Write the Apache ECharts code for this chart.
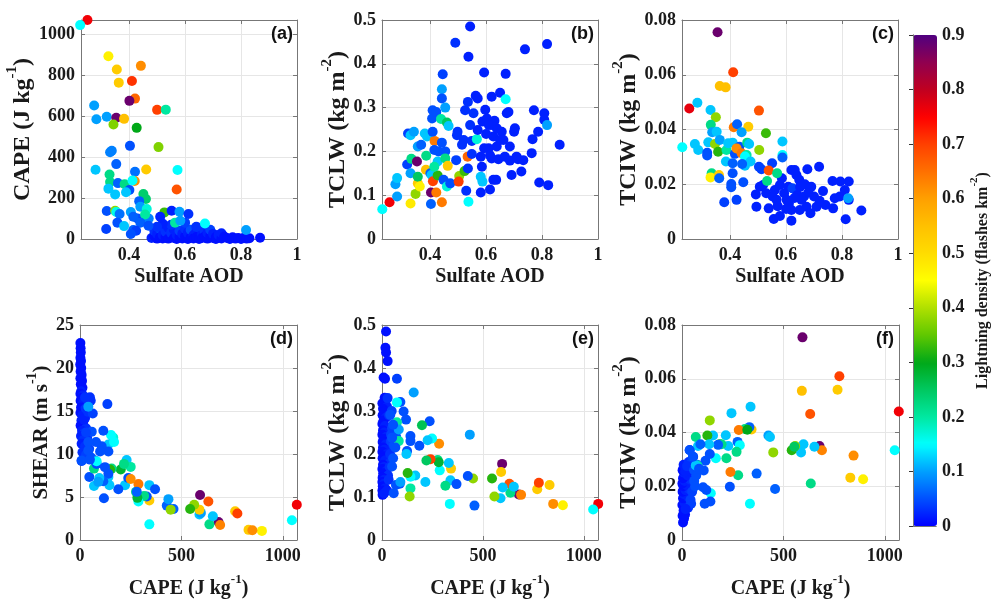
<!DOCTYPE html>
<html><head><meta charset="utf-8">
<script src="https://cdn.jsdelivr.net/npm/echarts@6/dist/echarts.min.js"></script>
<style>html,body{margin:0;padding:0;background:#fff}#c{width:992px;height:600px}</style>
</head><body><div id="c"></div>
<script>
// ---- data: [x, y, lightning density] ----
const ptsA = [ // Sulfate AOD vs CAPE
[0.48,5,0.02],[0.49,15,0.01],[0.49,40,0.03],[0.50,2,0.01],[0.50,25,0.02],[0.51,8,0.01],[0.51,50,0.04],[0.52,3,0.01],[0.52,20,0.02],[0.53,10,0.01],[0.53,35,0.03],[0.54,2,0.01],[0.54,55,0.02],[0.55,15,0.01],[0.55,30,0.03],[0.56,5,0.01],[0.56,45,0.02],[0.57,0,0.01],[0.57,20,0.02],[0.58,10,0.01],[0.58,40,0.04],[0.59,3,0.01],[0.59,25,0.02],[0.60,12,0.01],[0.60,50,0.03],[0.61,0,0.01],[0.61,30,0.02],[0.62,8,0.01],[0.62,45,0.05],[0.63,18,0.02],[0.63,3,0.01],[0.64,35,0.02],[0.64,10,0.01],[0.65,0,0.01],[0.65,55,0.03],[0.66,20,0.02],[0.66,5,0.01],[0.67,40,0.03],[0.67,12,0.01],[0.68,2,0.01],[0.68,30,0.02],[0.69,15,0.01],[0.69,45,0.04],[0.70,5,0.01],[0.70,25,0.02],[0.71,10,0.01],[0.71,0,0.01],[0.72,20,0.02],[0.73,3,0.01],[0.73,28,0.02],[0.74,12,0.01],[0.75,5,0.01],[0.76,0,0.01],[0.77,8,0.01],[0.78,2,0.01],[0.79,5,0.01],[0.80,0,0.01],[0.81,6,0.01],[0.82,2,0.01],[0.83,4,0.01],[0.55,70,0.03],[0.60,80,0.04],[0.64,60,0.03],[0.52,75,0.02],[0.50,60,0.03],[0.43,100,0.05],[0.45,90,0.04],[0.47,100,0.08],
[0.251,1070,0.76],[0.225,1045,0.15],[0.326,893,0.47],[0.356,828,0.53],[0.442,846,0.62],[0.363,764,0.53],[0.410,772,0.71],[0.421,686,0.66],[0.401,675,0.88],[0.275,652,0.1],[0.500,631,0.7],[0.531,632,0.2],[0.283,585,0.1],[0.320,597,0.1],[0.354,592,0.88],[0.382,587,0.55],[0.344,559,0.37],[0.427,543,0.3],[0.403,455,0.05],[0.338,431,0.08],[0.332,424,0.08],[0.505,449,0.37],[0.280,338,0.12],[0.354,366,0.06],[0.461,340,0.53],[0.573,337,0.15],[0.421,329,0.07],[0.330,315,0.22],[0.332,278,0.22],[0.360,273,0.06],[0.384,268,0.22],[0.420,283,0.62],[0.412,286,0.15],[0.570,242,0.68],[0.326,246,0.12],[0.401,239,0.05],[0.350,218,0.12],[0.389,228,0.12],[0.451,220,0.24],[0.460,195,0.24],[0.436,185,0.06],[0.440,158,0.1],[0.463,146,0.17],[0.320,137,0.05],[0.350,138,0.38],[0.354,132,0.16],[0.366,122,0.07],[0.406,132,0.1],[0.415,109,0.06],[0.457,120,0.2],[0.526,130,0.33],[0.552,138,0.02],[0.580,133,0.1],[0.612,122,0.03],[0.564,80,0.2],[0.583,89,0.1],[0.671,76,0.15],[0.511,109,0.02],[0.358,80,0.05],[0.382,63,0.12],[0.318,49,0.04],[0.440,80,0.06],[0.469,65,0.05],[0.415,44,0.06],[0.425,40,0.04],[0.406,24,0.05],[0.818,44,0.1],[0.868,6,0.01]
];
const ptsB = [ // Sulfate AOD vs TCLW
[0.229,0.068,0.15],[0.255,0.084,0.76],[0.282,0.097,0.1],[0.276,0.125,0.1],[0.282,0.139,0.12],[0.318,0.17,0.04],[0.321,0.241,0.04],[0.33,0.237,0.12],[0.342,0.245,0.1],[0.33,0.081,0.48],[0.348,0.103,0.38],[0.356,0.127,0.53],[0.33,0.15,0.1],[0.333,0.183,0.22],[0.353,0.177,0.88],[0.356,0.142,0.25],[0.363,0.12,0.47],[0.356,0.211,0.1],[0.368,0.215,0.06],[0.381,0.241,0.12],[0.389,0.234,0.12],[0.386,0.19,0.22],[0.385,0.158,0.55],[0.401,0.15,0.06],[0.405,0.146,0.12],[0.403,0.106,0.88],[0.403,0.08,0.06],[0.422,0.106,0.64],[0.442,0.084,0.64],[0.41,0.132,0.7],[0.416,0.224,0.64],[0.409,0.245,0.05],[0.407,0.275,0.05],[0.409,0.294,0.05],[0.422,0.29,0.05],[0.415,0.203,0.05],[0.43,0.2,0.05],[0.427,0.177,0.12],[0.427,0.145,0.32],[0.415,0.165,0.2],[0.442,0.342,0.1],[0.442,0.321,0.05],[0.445,0.376,0.04],[0.454,0.3,0.1],[0.439,0.274,0.2],[0.46,0.266,0.25],[0.466,0.258,0.12],[0.442,0.22,0.05],[0.454,0.2,0.05],[0.454,0.184,0.22],[0.463,0.167,0.53],[0.448,0.135,0.05],[0.46,0.12,0.17],[0.472,0.127,0.05],[0.493,0.18,0.04],[0.49,0.448,0.03],[0.543,0.485,0.02],[0.537,0.416,0.02],[0.496,0.237,0.03],[0.498,0.245,0.03],[0.504,0.144,0.38],[0.502,0.131,0.7],[0.523,0.155,0.33],[0.514,0.215,0.03],[0.52,0.226,0.03],[0.525,0.294,0.03],[0.535,0.313,0.03],[0.543,0.26,0.03],[0.534,0.188,0.66],[0.535,0.161,0.03],[0.529,0.11,0.03],[0.537,0.085,0.15],[0.549,0.194,0.03],[0.555,0.287,0.03],[0.549,0.224,0.03],[0.567,0.228,0.17],[0.563,0.327,0.02],[0.57,0.321,0.02],[0.57,0.249,0.02],[0.581,0.188,0.02],[0.585,0.165,0.02],[0.581,0.142,0.12],[0.587,0.131,0.12],[0.581,0.106,0.02],[0.593,0.38,0.02],[0.587,0.268,0.02],[0.593,0.207,0.02],[0.603,0.275,0.02],[0.614,0.113,0.02],[0.62,0.325,0.02],[0.623,0.26,0.02],[0.626,0.234,0.02],[0.62,0.184,0.02],[0.626,0.135,0.02],[0.636,0.135,0.02],[0.638,0.253,0.02],[0.644,0.182,0.02],[0.65,0.334,0.02],[0.656,0.245,0.02],[0.662,0.226,0.02],[0.67,0.377,0.02],[0.67,0.319,0.15],[0.674,0.287,0.02],[0.68,0.29,0.02],[0.667,0.188,0.02],[0.685,0.211,0.02],[0.691,0.146,0.02],[0.685,0.179,0.02],[0.7,0.245,0.02],[0.703,0.253,0.02],[0.709,0.188,0.02],[0.714,0.182,0.02],[0.726,0.154,0.02],[0.733,0.18,0.02],[0.739,0.433,0.02],[0.763,0.196,0.02],[0.766,0.228,0.02],[0.771,0.294,0.02],[0.786,0.245,0.02],[0.79,0.129,0.02],[0.808,0.287,0.02],[0.808,0.272,0.02],[0.818,0.445,0.02],[0.822,0.123,0.02],[0.818,0.26,0.1],[0.863,0.215,0.02],[0.597,0.295,0.02],[0.609,0.207,0.02],[0.614,0.191,0.02],[0.638,0.211,0.02],[0.65,0.226,0.02],[0.63,0.27,0.02],[0.6,0.24,0.02],[0.61,0.26,0.02]
];
const ptsC = [ // Sulfate AOD vs TCIW
[0.494,0.0118,0.02],[0.492,0.0163,0.02],[0.506,0.0191,0.02],[0.518,0.0197,0.02],[0.529,0.0167,0.02],[0.538,0.0112,0.02],[0.556,0.0073,0.02],[0.578,0.0084,0.02],[0.619,0.0067,0.02],[0.552,0.0155,0.02],[0.566,0.0143,0.02],[0.56,0.0179,0.02],[0.578,0.0197,0.02],[0.593,0.0167,0.02],[0.602,0.0143,0.02],[0.608,0.0191,0.02],[0.623,0.0185,0.04],[0.619,0.0106,0.02],[0.631,0.0252,0.02],[0.637,0.0234,0.02],[0.647,0.0216,0.02],[0.64,0.0161,0.02],[0.649,0.0106,0.02],[0.655,0.0143,0.02],[0.664,0.0155,0.02],[0.673,0.0118,0.02],[0.687,0.0094,0.02],[0.676,0.0255,0.02],[0.667,0.02,0.02],[0.69,0.0191,0.02],[0.7,0.0155,0.02],[0.709,0.0118,0.02],[0.718,0.0264,0.02],[0.732,0.0175,0.02],[0.741,0.0124,0.02],[0.768,0.0112,0.02],[0.766,0.0212,0.02],[0.774,0.0149,0.02],[0.792,0.0155,0.02],[0.794,0.021,0.02],[0.81,0.0179,0.02],[0.813,0.0072,0.02],[0.824,0.021,0.02],[0.824,0.0143,0.02],[0.822,0.0149,0.1],[0.869,0.0104,0.02],[0.619,0.0252,0.02],[0.585,0.0222,0.02],[0.61,0.013,0.02],[0.63,0.015,0.02],[0.68,0.017,0.02],[0.72,0.014,0.02],[0.57,0.012,0.02],[0.6,0.011,0.02],[0.65,0.019,0.02],
[0.355,0.0755,0.88],[0.411,0.0609,0.7],[0.363,0.0559,0.55],[0.384,0.0554,0.55],[0.254,0.0477,0.77],[0.283,0.0498,0.12],[0.33,0.0471,0.12],[0.503,0.0469,0.68],[0.349,0.0445,0.38],[0.413,0.0408,0.64],[0.425,0.0419,0.06],[0.465,0.041,0.53],[0.441,0.039,0.1],[0.331,0.0417,0.22],[0.336,0.039,0.1],[0.352,0.0392,0.12],[0.528,0.0386,0.33],[0.229,0.0335,0.15],[0.274,0.0347,0.12],[0.286,0.0325,0.12],[0.322,0.0353,0.12],[0.346,0.0347,0.38],[0.357,0.0319,0.32],[0.318,0.0315,0.05],[0.318,0.0305,0.05],[0.363,0.0362,0.1],[0.387,0.0325,0.2],[0.393,0.035,0.12],[0.409,0.0352,0.12],[0.417,0.0311,0.05],[0.433,0.0337,0.05],[0.423,0.0331,0.62],[0.441,0.0313,0.64],[0.461,0.0352,0.22],[0.468,0.0347,0.12],[0.459,0.0307,0.2],[0.453,0.0301,0.15],[0.504,0.0325,0.38],[0.587,0.0356,0.12],[0.587,0.0307,0.15],[0.587,0.0298,0.06],[0.385,0.0283,0.12],[0.409,0.0277,0.06],[0.453,0.0268,0.12],[0.473,0.0283,0.12],[0.443,0.0274,0.06],[0.503,0.0264,0.04],[0.512,0.0255,0.04],[0.55,0.0277,0.04],[0.538,0.025,0.68],[0.568,0.024,0.22],[0.334,0.024,0.22],[0.33,0.0225,0.47],[0.36,0.0234,0.53],[0.361,0.0222,0.06],[0.409,0.024,0.05],[0.404,0.0201,0.05],[0.404,0.0189,0.05],[0.447,0.0207,0.05],[0.379,0.0134,0.04],[0.423,0.0143,0.04],[0.532,0.0212,0.22]
];
const ptsD = [ // CAPE vs SHEAR
[2,22.9,0.01],[3,22.3,0.01],[4,21.8,0.01],[2,21.2,0.01],[5,20.8,0.01],[1,20.4,0.01],[6,20,0.01],[3,19.6,0.01],[8,19.2,0.01],[2,18.8,0.01],[10,18.5,0.01],[4,18.1,0.01],[12,17.7,0.01],[6,17.3,0.02],[2,17,0.01],[15,16.8,0.02],[8,16.5,0.01],[3,16.2,0.01],[18,16,0.02],[10,15.7,0.02],[5,15.4,0.01],[20,15.1,0.02],[2,14.8,0.01],[12,14.5,0.02],[25,14.2,0.02],[7,13.9,0.02],[15,13.6,0.02],[3,13.3,0.01],[30,13,0.03],[10,12.7,0.02],[20,12.4,0.03],[5,12.1,0.02],[35,11.9,0.03],[15,11.6,0.03],[8,11.2,0.02],[25,10.9,0.03],[45,10.6,0.04],[12,10.2,0.03],[30,9.9,0.04],[55,9.6,0.05],[8,9.2,0.04],[20,14,0.02],[28,15.3,0.03],[35,16.4,0.03],[40,14.9,0.03],
[1069,4.1,0.76],[1045,2.3,0.15],[897,1.06,0.47],[831,1.18,0.53],[850,1.14,0.62],[765,3.34,0.53],[776,3.08,0.7],[592,5.24,0.88],[633,4.48,0.68],[683,2.09,0.88],[691,1.75,0.63],[638,1.82,0.22],[655,2.77,0.12],[589,2.96,0.12],[596,3.15,0.1],[589,3.53,0.53],[563,4.1,0.38],[543,3.61,0.32],[461,3.61,0.06],[428,4.0,0.06],[436,4.75,0.1],[447,3.53,0.38],[342,1.82,0.15],[342,6.38,0.12],[342,4.6,0.53],[329,5.05,0.05],[370,5.9,0.05],[316,5.13,0.22],[288,4.48,0.15],[276,5.6,0.22],[283,4.9,0.28],[288,6.5,0.64],[280,5.6,0.06],[222,6.38,0.12],[189,5.9,0.05],[230,9.3,0.12],[238,7.2,0.05],[250,8.5,0.2],[250,7.1,0.62],[201,8.2,0.28],[217,8.85,0.22],[156,8.3,0.22],[148,8.2,0.32],[140,7.33,0.12],[140,7.7,0.05],[145,6.38,0.12],[118,4.86,0.05],[115,6.84,0.06],[123,8.47,0.05],[46,7.33,0.05],[69,6.27,0.12],[95,7.2,0.12],[69,8.3,0.22],[90,6.76,0.1],[82,8.85,0.05],[74,9.23,0.05],[82,9.15,0.15],[8,9.23,0.05],[164,11.9,0.17],[153,12.2,0.15],[140,11.1,0.12],[168,11.4,0.15],[115,12.7,0.05],[140,10.3,0.05],[107,10.9,0.05],[79,11.4,0.05],[58,12.6,0.05],[135,15.8,0.04],[63,14.7,0.04],[49,16.6,0.03],[53,16.2,0.03],[25,16.6,0.03],[41,15.5,0.1],[30,12.5,0.04],[41,11.4,0.05],[99,10.3,0.05],[41,10.4,0.05],[49,9.35,0.05]
];
const ptsE = [ // CAPE vs TCLW
[20,0.485,0.01],[17,0.447,0.01],[20,0.436,0.01],[28,0.416,0.01],[8,0.378,0.01],[15,0.375,0.01],[13,0.331,0.01],[18,0.325,0.01],[2,0.318,0.01],[25,0.31,0.02],[5,0.305,0.01],[10,0.298,0.01],[3,0.29,0.01],[20,0.285,0.02],[8,0.278,0.01],[2,0.27,0.01],[15,0.265,0.02],[30,0.26,0.02],[5,0.255,0.01],[12,0.25,0.02],[2,0.245,0.01],[22,0.24,0.02],[8,0.235,0.01],[3,0.228,0.01],[18,0.222,0.02],[35,0.218,0.03],[5,0.215,0.01],[12,0.21,0.02],[2,0.205,0.01],[25,0.2,0.02],[8,0.195,0.01],[3,0.19,0.01],[15,0.185,0.02],[40,0.18,0.03],[5,0.175,0.01],[10,0.17,0.02],[2,0.165,0.01],[20,0.16,0.02],[6,0.155,0.01],[30,0.15,0.03],[3,0.145,0.01],[12,0.14,0.02],[2,0.135,0.01],[8,0.13,0.02],[4,0.125,0.01],[15,0.12,0.02],[2,0.115,0.01],[6,0.11,0.01],[3,0.105,0.01],[10,0.108,0.02],[45,0.23,0.04],[50,0.26,0.04],[40,0.2,0.03],[60,0.22,0.05],[35,0.29,0.03],[28,0.33,0.03],[45,0.245,0.04],[55,0.19,0.05],[33,0.14,0.03],[25,0.115,0.02],[38,0.17,0.03],[60,0.27,0.05],[70,0.24,0.05],[48,0.3,0.04],
[1071,0.084,0.76],[1046,0.071,0.15],[896,0.081,0.47],[848,0.084,0.62],[830,0.128,0.53],[769,0.118,0.53],[777,0.133,0.7],[678,0.106,0.88],[689,0.105,0.63],[631,0.131,0.68],[636,0.11,0.22],[653,0.124,0.12],[598,0.122,0.12],[587,0.097,0.12],[595,0.177,0.88],[590,0.158,0.53],[545,0.143,0.32],[557,0.101,0.38],[458,0.08,0.06],[451,0.143,0.38],[425,0.149,0.05],[435,0.245,0.1],[336,0.084,0.15],[339,0.139,0.12],[342,0.166,0.53],[369,0.13,0.05],[314,0.126,0.22],[331,0.179,0.12],[286,0.162,0.15],[276,0.186,0.22],[281,0.181,0.28],[283,0.224,0.62],[240,0.188,0.7],[220,0.185,0.25],[215,0.135,0.12],[248,0.236,0.15],[226,0.232,0.12],[236,0.276,0.05],[198,0.267,0.26],[185,0.219,0.05],[157,0.343,0.1],[141,0.12,0.2],[137,0.101,0.38],[165,0.15,0.12],[141,0.147,0.15],[127,0.156,0.32],[141,0.242,0.05],[141,0.23,0.05],[119,0.28,0.05],[107,0.299,0.05],[124,0.207,0.05],[91,0.321,0.05],[74,0.375,0.04],[121,0.2,0.12],[74,0.32,0.15],[74,0.274,0.2],[83,0.23,0.2],[83,0.257,0.1],[88,0.131,0.05],[69,0.128,0.05],[58,0.109,0.05],[91,0.135,0.1],[41,0.291,0.05],[55,0.268,0.05],[50,0.238,0.05],[50,0.171,0.05],[66,0.215,0.05]
];
const ptsF = [ // CAPE vs TCIW
[5,0.0065,0.01],[10,0.008,0.01],[3,0.009,0.01],[15,0.0095,0.01],[8,0.011,0.01],[20,0.012,0.02],[2,0.013,0.01],[12,0.014,0.02],[25,0.0145,0.02],[5,0.0155,0.01],[30,0.016,0.02],[10,0.017,0.02],[3,0.018,0.01],[18,0.0185,0.02],[35,0.019,0.03],[7,0.02,0.01],[22,0.0205,0.02],[2,0.021,0.01],[14,0.022,0.02],[40,0.0225,0.03],[5,0.023,0.01],[28,0.024,0.02],[10,0.025,0.02],[3,0.026,0.01],[20,0.0265,0.02],[45,0.027,0.04],[8,0.028,0.02],[33,0.029,0.03],[50,0.0295,0.04],[15,0.0255,0.02],[38,0.0335,0.04],[55,0.031,0.04],[25,0.0275,0.03],[60,0.022,0.05],[50,0.018,0.04],[42,0.015,0.04],[60,0.026,0.05],[70,0.024,0.05],[65,0.02,0.05],[75,0.028,0.06],[30,0.012,0.03],[45,0.0135,0.04],[18,0.0115,0.02],
[594,0.0754,0.88],[776,0.0609,0.7],[591,0.0555,0.55],[767,0.0559,0.53],[1069,0.0478,0.76],[632,0.0469,0.68],[338,0.0496,0.12],[244,0.0472,0.12],[137,0.0445,0.38],[1049,0.0334,0.15],[846,0.0314,0.62],[830,0.0232,0.53],[893,0.0226,0.47],[635,0.021,0.22],[599,0.0356,0.12],[587,0.0326,0.12],[678,0.035,0.88],[690,0.0334,0.63],[653,0.0347,0.12],[558,0.035,0.38],[541,0.0334,0.32],[554,0.0347,0.25],[450,0.0326,0.38],[426,0.0389,0.1],[434,0.0383,0.12],[368,0.0247,0.06],[459,0.019,0.06],[335,0.0135,0.15],[343,0.0411,0.53],[332,0.042,0.06],[310,0.0413,0.22],[280,0.0409,0.64],[322,0.041,0.3],[274,0.0365,0.06],[285,0.0353,0.15],[269,0.0328,0.22],[277,0.0241,0.22],[239,0.0253,0.64],[236,0.0198,0.05],[216,0.039,0.12],[228,0.035,0.12],[186,0.0356,0.3],[195,0.0356,0.22],[178,0.0354,0.06],[219,0.0304,0.22],[153,0.0389,0.12],[125,0.0389,0.32],[167,0.0304,0.15],[142,0.0174,0.15],[134,0.0356,0.12],[137,0.032,0.05],[116,0.0295,0.05],[107,0.0259,0.05],[104,0.0196,0.05],[120,0.0186,0.05],[112,0.0135,0.05],[140,0.0143,0.05],[68,0.0383,0.22],[79,0.035,0.12],[91,0.0356,0.06],[76,0.0277,0.2],[68,0.0277,0.12],[84,0.0265,0.05],[38,0.0334,0.05],[54,0.031,0.05]
];
const panelLabels = ['(a)','(b)','(c)','(d)','(e)','(f)'];
const aodTicks = [0.4, 0.6, 0.8, 1];
const capeTicks = [0, 500, 1000];
const lightTicks = [0,0.1,0.2,0.3,0.4,0.5,0.6,0.7,0.8,0.9];
const cmap = ['#0000ff','#0050ff','#00a0ff','#00ffff','#00e8a0','#00c860','#00a818','#60c800','#b0e000','#ffff00','#ffdc00','#ffc000','#ffa000','#ff7000','#ff4000','#ff0000','#c00020','#900050','#500080'];

const SERIF = 'Liberation Serif';
const TXT = '#1a1a1a', FRAME = '#777', GRIDC = '#e6e6e6';
const tok = (size, lh, va) => ({fontFamily: SERIF, fontWeight: 'bold', fontSize: size, color: TXT, lineHeight: lh, verticalAlign: va});
const rich = {
  t: tok(20, 26, 'bottom'), s: tok(13, 12, 'top'),
  y: tok(24, 30, 'bottom'), ys: tok(15, 14, 'top'),
  h: tok(21, 27, 'bottom'), hs: tok(14, 13, 'top'),
  ct: tok(16, 22, 'bottom'), cs: tok(11, 10, 'top')
};
const nm = (a, s, b, m = 't', ms = 's') => s ? `{${m}|${a}}{${ms}|${s}}{${m}|${b}}` : `{${m}|${a}}`;

const grids = [
  {left: 81, top: 20, width: 216, height: 219},
  {left: 382, top: 20, width: 216, height: 219},
  {left: 682, top: 20, width: 216, height: 219},
  {left: 80, top: 325, width: 217, height: 219},
  {left: 382, top: 325, width: 216, height: 219},
  {left: 682, top: 325, width: 217, height: 219},
  {left: 913, top: 35, width: 24, height: 491}
];
const aodFmt = v => { for (const t of aodTicks) if (Math.abs(v - t) < 1e-6) return t === 1 ? '1' : t.toFixed(1); return ''; };
const capeFmt = v => capeTicks.includes(Math.round(v)) && Math.abs(v - Math.round(v)) < 1e-6 ? String(Math.round(v)) : '';
const panels = [
  {data: ptsA, x: 'aod', y: {min: 0, max: 1070, interval: 200, fmt: v => (v % 200 === 0 ? String(v) : '')}, yname: nm('CAPE (J kg', '-1', ')', 'y', 'ys'), ygap: 41},
  {data: ptsB, x: 'aod', y: {min: 0, max: 0.5, interval: 0.1}, yname: nm('TCLW (kg m', '-2', ')', 'y', 'ys'), ygap: 28},
  {data: ptsC, x: 'aod', y: {min: 0, max: 0.08, interval: 0.02}, yname: nm('TCIW (kg m', '-2', ')', 'y', 'ys'), ygap: 36},
  {data: ptsD, x: 'cape', y: {min: 0, max: 25, interval: 5}, yname: nm('SHEAR (m s', '-1', ')', 'h', 'hs'), ygap: 23},
  {data: ptsE, x: 'cape', y: {min: 0, max: 0.5, interval: 0.1}, yname: nm('TCLW (kg m', '-2', ')', 'y', 'ys'), ygap: 28},
  {data: ptsF, x: 'cape', y: {min: 0, max: 0.08, interval: 0.02}, yname: nm('TCIW (kg m', '-2', ')', 'y', 'ys'), ygap: 36}
];
const labelStyle = {fontFamily: SERIF, fontWeight: 'bold', fontSize: 18, color: TXT};
const xAxes = [], yAxes = [], series = [];
panels.forEach((p, i) => {
  const xa = p.x === 'aod'
    ? {min: 0.228, max: 1, fmt: aodFmt, name: nm('Sulfate AOD'), gap: 22}
    : {min: 0, max: 1070, interval: 500, fmt: capeFmt, name: nm('CAPE (J kg', '-1', ')'), gap: 33};
  const base = {type: 'value', gridIndex: i, min: xa.min, max: xa.max, interval: xa.interval};
  xAxes.push(Object.assign({}, base, {
    position: 'bottom', name: xa.name, nameLocation: 'middle', nameGap: xa.gap,
    nameTextStyle: {rich},
    axisLine: {show: true, lineStyle: {color: FRAME}},
    axisTick: {show: true, inside: true, length: 4, lineStyle: {color: FRAME}},
    axisLabel: Object.assign({margin: 7, formatter: xa.fmt, showMinLabel: true, showMaxLabel: true}, labelStyle),
    splitLine: {show: true, lineStyle: {color: GRIDC}}
  }));
  xAxes.push(Object.assign({}, base, {
    position: 'top', axisLine: {show: true, onZero: false, lineStyle: {color: FRAME}},
    axisTick: {show: true, inside: true, length: 4, lineStyle: {color: FRAME}},
    axisLabel: {show: false}, splitLine: {show: false}
  }));
  const ybase = {type: 'value', gridIndex: i, min: p.y.min, max: p.y.max, interval: p.y.interval};
  yAxes.push(Object.assign({}, ybase, {
    position: 'left', name: p.yname, nameLocation: 'middle', nameGap: p.ygap,
    nameTextStyle: {rich},
    axisLine: {show: true, onZero: false, lineStyle: {color: FRAME}},
    axisTick: {show: true, inside: true, length: 4, lineStyle: {color: FRAME}},
    axisLabel: Object.assign({margin: 6, formatter: p.y.fmt}, labelStyle),
    splitLine: {show: true, lineStyle: {color: GRIDC}}
  }));
  yAxes.push(Object.assign({}, ybase, {
    position: 'right', axisLine: {show: true, onZero: false, lineStyle: {color: FRAME}},
    axisTick: {show: true, inside: true, length: 4, lineStyle: {color: FRAME}},
    axisLabel: {show: false}, splitLine: {show: false}
  }));
  series.push({
    type: 'scatter', xAxisIndex: i * 2, yAxisIndex: i * 2, data: p.data,
    symbol: 'circle', symbolSize: 10, clip: false, silent: true,
    itemStyle: {opacity: 1}, emphasis: {disabled: true}
  });
});
// colorbar frame + ticks
xAxes.push({type: 'value', gridIndex: 6, position: 'bottom', min: 0, max: 1, axisLine: {show: true, lineStyle: {color: FRAME}}, axisTick: {show: false}, axisLabel: {show: false}, splitLine: {show: false}, z: 10});
xAxes.push({type: 'value', gridIndex: 6, position: 'top', min: 0, max: 1, axisLine: {show: true, lineStyle: {color: FRAME}}, axisTick: {show: false}, axisLabel: {show: false}, splitLine: {show: false}, z: 10});
yAxes.push({type: 'value', gridIndex: 6, position: 'left', min: 0, max: 0.9, axisLine: {show: true, lineStyle: {color: FRAME}}, axisTick: {show: false}, axisLabel: {show: false}, splitLine: {show: false}, z: 10});
yAxes.push({type: 'value', gridIndex: 6, position: 'right', min: lightTicks[0], max: lightTicks[lightTicks.length - 1], interval: 0.1, z: 10,
  name: '{ct|Lightning density (flashes km}{cs|-2}{ct|)}', nameLocation: 'middle', nameGap: 33, nameRotate: 90,
  nameTextStyle: {rich},
  axisLine: {show: true, lineStyle: {color: FRAME}},
  axisTick: {show: true, inside: true, length: 4, lineStyle: {color: '#333'}},
  axisLabel: Object.assign({margin: 6}, labelStyle), splitLine: {show: false}});

const chart = echarts.init(document.getElementById('c'), null, {renderer: 'canvas'});
chart.setOption({
  animation: false,
  backgroundColor: '#fff',
  grid: grids,
  xAxis: xAxes,
  yAxis: yAxes,
  title: panelLabels.map((t, i) => ({
    text: t, padding: 0,
    right: [699, 398, 98][i % 3], top: i < 3 ? 25 : 330,
    textStyle: {fontFamily: 'Liberation Sans', fontWeight: 'bold', fontSize: 18, color: '#111'}
  })),
  visualMap: {
    type: 'continuous', min: 0, max: 0.9, dimension: 2, seriesIndex: [0, 1, 2, 3, 4, 5],
    inRange: {color: cmap}, calculable: false, orient: 'vertical',
    left: 913, top: 35, itemWidth: 24, itemHeight: 491, padding: 0, text: null, hoverLink: false
  },
  series
});
</script></body></html>
